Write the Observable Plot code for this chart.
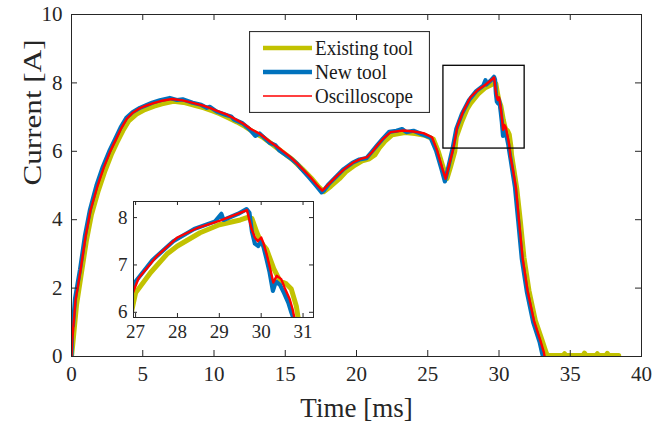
<!DOCTYPE html>
<html>
<head>
<meta charset="utf-8">
<script src="https://cdn.jsdelivr.net/npm/d3@7"></script>
<script src="https://cdn.jsdelivr.net/npm/@observablehq/plot@0.6"></script>
<style>
  html, body { margin: 0; padding: 0; background: white; }
  #wrap { position: relative; width: 670px; height: 423px; }
  #wrap > * { position: absolute; }
</style>
</head>
<body>
<div id="wrap"></div>
<script>
// ---- data (time [ms], current [A]) ----
const existingTool = [[0,0],[0.1,0.4],[0.35,1.5],[0.7,2.45],[1.05,3.4],[1.4,4.15],[1.88,4.85],[2.35,5.43],[2.82,5.93],[3.18,6.25],[3.6,6.6],[4.0,6.88],[4.6,7.1],[5.15,7.22],[5.8,7.32],[6.35,7.39],[7.15,7.46],[8.0,7.42],[8.7,7.34],[9.3,7.27],[9.9,7.18],[10.4,7.1],[11.0,6.98],[11.6,6.86],[12.2,6.72],[12.7,6.58],[13.4,6.42],[14.1,6.2],[14.8,5.98],[15.5,5.76],[16.2,5.48],[16.9,5.18],[17.3,4.98],[17.7,4.82],[18.2,4.98],[18.8,5.2],[19.3,5.42],[19.9,5.6],[20.4,5.72],[20.9,5.78],[21.3,5.9],[21.6,6.1],[22.0,6.3],[22.5,6.48],[23.4,6.55],[24.1,6.52],[24.8,6.47],[25.4,6.35],[25.75,5.98],[26.1,5.5],[26.35,5.2],[26.6,5.55],[26.9,6.0],[27.0,6.41],[27.36,6.84],[27.75,7.23],[28.0,7.4],[28.54,7.68],[29.0,7.85],[29.5,7.95],[29.66,8.0],[29.78,7.98],[29.9,7.68],[30.0,7.47],[30.13,7.33],[30.3,6.92],[30.45,6.66],[30.6,6.6],[30.72,6.49],[30.84,6.13],[30.88,5.9],[31.05,5.45],[31.25,4.9],[31.5,3.95],[31.75,2.9],[32.1,1.93],[32.55,1.05],[33.0,0.5],[33.3,0.12],[33.4,0.03],[34.5,0.03],[34.6,0.08],[34.7,0.03],[35.9,0.03],[36.0,0.1],[36.1,0.03],[36.8,0.03],[36.9,0.08],[37.0,0.03],[37.5,0.03],[37.6,0.09],[37.7,0.03],[38.4,0.03]];
const newTool = [[0,0],[0.03,0.6],[0.06,1.05],[0.1,0.9],[0.25,1.7],[0.6,2.55],[0.95,3.55],[1.3,4.3],[1.75,5.0],[2.2,5.55],[2.7,6.05],[3.05,6.35],[3.45,6.7],[3.85,6.98],[4.3,7.15],[4.8,7.27],[5.2,7.34],[5.65,7.42],[6.2,7.49],[6.9,7.56],[7.4,7.5],[7.8,7.52],[8.5,7.42],[9.1,7.36],[9.5,7.27],[9.7,7.3],[10.2,7.16],[10.85,7.06],[11.2,7.02],[11.4,6.93],[12.0,6.82],[12.5,6.64],[12.9,6.45],[13.2,6.52],[13.9,6.25],[14.3,6.18],[14.6,6.02],[15.3,5.82],[15.8,5.65],[16.1,5.5],[16.7,5.22],[17.15,5.0],[17.55,4.8],[17.7,4.85],[18.05,5.04],[18.6,5.27],[19.1,5.48],[19.7,5.66],[20.2,5.76],[20.7,5.8],[21.0,5.95],[21.4,6.15],[21.85,6.37],[22.3,6.57],[22.8,6.6],[23.2,6.65],[23.5,6.56],[24.0,6.6],[24.6,6.5],[25.2,6.4],[25.6,6.0],[25.95,5.5],[26.2,5.12],[26.45,5.55],[26.75,6.1],[27.0,6.65],[27.4,7.1],[27.9,7.5],[28.4,7.76],[28.9,7.92],[29.05,8.08],[29.1,7.95],[29.45,8.08],[29.65,8.18],[29.72,8.1],[29.78,7.7],[29.85,7.45],[29.93,7.4],[30.0,7.5],[30.05,7.4],[30.12,7.15],[30.2,6.85],[30.28,6.45],[30.35,6.65],[30.45,6.58],[30.55,6.4],[30.65,6.2],[30.72,6.0],[30.8,5.8],[30.95,5.4],[31.12,4.95],[31.35,3.95],[31.6,2.85],[31.95,1.9],[32.4,1.0],[32.85,0.42],[33.05,0.05],[33.1,0]];
const oscilloscope = [[0,0],[0.05,0.47],[0.28,1.64],[0.63,2.51],[0.98,3.49],[1.33,4.27],[1.8,4.95],[2.27,5.53],[2.74,6.02],[3.09,6.32],[3.5,6.68],[3.9,6.96],[4.3,7.13],[4.7,7.24],[5.07,7.31],[5.7,7.4],[6.25,7.47],[7.06,7.53],[7.8,7.49],[8.58,7.41],[9.2,7.34],[9.75,7.26],[10.3,7.17],[10.93,7.07],[11.5,6.94],[12.1,6.8],[12.56,6.66],[13.26,6.5],[13.96,6.27],[14.7,6.05],[15.37,5.83],[16.1,5.53],[16.77,5.24],[17.2,5.03],[17.6,4.85],[18.1,5.06],[18.64,5.29],[19.2,5.5],[19.8,5.68],[20.3,5.78],[20.75,5.83],[21.1,5.98],[21.45,6.17],[21.9,6.38],[22.4,6.56],[23.3,6.61],[24.0,6.58],[24.7,6.53],[25.3,6.41],[25.66,6.02],[26.0,5.53],[26.25,5.2],[26.5,5.6],[26.8,6.1],[27.07,6.72],[27.5,7.18],[28.0,7.58],[28.5,7.79],[29.0,7.93],[29.5,8.1],[29.66,8.16],[29.77,7.76],[29.85,7.58],[29.92,7.5],[30.0,7.58],[30.05,7.47],[30.13,7.23],[30.21,6.94],[30.29,6.63],[30.37,6.77],[30.48,6.7],[30.56,6.52],[30.68,6.28],[30.75,6.07],[30.8,5.85],[31.0,5.4],[31.18,4.95],[31.4,3.98],[31.65,2.9],[32.0,1.93],[32.45,1.05],[32.9,0.47],[33.15,0.12],[33.2,0]];

const xTicks = [0, 5, 10, 15, 20, 25, 30, 35, 40];
const yTicks = [0, 2, 4, 6, 8, 10];
const insetXTicks = [27, 28, 29, 30, 31];
const insetYTicks = [6, 7, 8];
const zoomBox = [{x1: 26.1, x2: 31.8, y1: 6.08, y2: 8.5}];
const legendLabels = ["Existing tool", "New tool", "Oscilloscope"];
const seriesColors = ["#c2c200", "#0072bd", "#ff0000"];
const seriesWidths = [5, 4.2, 2.4];
const legendWidths = [4.5, 4.5, 1.3];

const axisColor = "#262626";
const font = "'Liberation Serif', 'Times New Roman', serif";
const series = [existingTool, newTool, oscilloscope];

function lineMarks() {
  return series.map((s, i) => Plot.line(s, {
    x: d => d[0], y: d => d[1], stroke: seriesColors[i],
    strokeWidth: seriesWidths[i], strokeLinejoin: "round", clip: true
  }));
}

function inwardTicks(xt, yt, W, H, len) {
  return [
    Plot.tickX(xt, {x: d => d, insetTop: H - len, stroke: axisColor}),
    Plot.tickX(xt, {x: d => d, insetBottom: H - len, stroke: axisColor}),
    Plot.tickY(yt, {y: d => d, insetRight: W - len, stroke: axisColor}),
    Plot.tickY(yt, {y: d => d, insetLeft: W - len, stroke: axisColor})
  ];
}

// ---- main chart ----
const M = {l: 71, r: 29, t: 14, b: 67};
const W = 670, H = 423;
const main = Plot.plot({
  width: W, height: H,
  marginLeft: M.l, marginRight: M.r, marginTop: M.t, marginBottom: M.b,
  x: {domain: [0, 40]},
  y: {domain: [0, 10]},
  style: {fontFamily: font, fontSize: "21px", color: axisColor, background: "white", overflow: "visible"},
  marks: [
    ...lineMarks(),
    Plot.rect(zoomBox, {x1: "x1", x2: "x2", y1: "y1", y2: "y2", fill: "none", stroke: "black", strokeWidth: 1.3}),
    ...inwardTicks(xTicks, yTicks, W - M.l - M.r, H - M.t - M.b, 6),
    Plot.frame({stroke: axisColor, strokeWidth: 1}),
    Plot.axisX({ticks: xTicks, tickFormat: d => String(d), tickSize: 0, tickPadding: 10, label: null, fontSize: 21}),
    Plot.axisY({ticks: yTicks, tickFormat: d => String(d), tickSize: 0, tickPadding: 9, label: null, fontSize: 21}),
    Plot.text(["Time [ms]"], {frameAnchor: "bottom", dy: 52, fontSize: 27, fill: axisColor, lineAnchor: "middle"}),
    Plot.text(["Current [A]"], {frameAnchor: "left", dx: -39, rotate: -90, fontSize: 26, fill: axisColor, lineAnchor: "middle"})
  ]
});
main.style.left = "0px"; main.style.top = "0px";
document.getElementById("wrap").appendChild(main);
// vertical stretch of the original rendering: lengthen the rotated label
d3.select(main).selectAll("text").filter(function() { return this.textContent === "Current [A]"; })
  .attr("textLength", 146).attr("lengthAdjust", "spacingAndGlyphs");

// ---- inset ----
const IM = {l: 33, r: 17, t: 11, b: 33};
const IW = 230, IH = 160;
const inset = Plot.plot({
  width: IW, height: IH,
  marginLeft: IM.l, marginRight: IM.r, marginTop: IM.t, marginBottom: IM.b,
  x: {domain: [26.95, 31.25]},
  y: {domain: [5.89, 8.34]},
  style: {fontFamily: font, fontSize: "19px", color: axisColor, background: "transparent", overflow: "visible"},
  marks: [
    Plot.frame({fill: "white"}),
    ...lineMarks(),
    ...inwardTicks(insetXTicks, insetYTicks, IW - IM.l - IM.r, IH - IM.t - IM.b, 4),
    Plot.frame({stroke: axisColor, strokeWidth: 1}),
    Plot.axisX({ticks: insetXTicks, tickFormat: d => String(d), tickSize: 0, tickPadding: 7, label: null, fontSize: 19}),
    Plot.axisY({ticks: insetYTicks, tickFormat: d => String(d), tickSize: 0, tickPadding: 6, label: null, fontSize: 19})
  ]
});
inset.style.left = "100px"; inset.style.top = "190px";
document.getElementById("wrap").appendChild(inset);

// ---- legend ----
const LX = 249, LY = 31, LW = 181, LH = 82;
const legend = d3.create("svg").attr("width", LW).attr("height", LH)
  .style("left", LX + "px").style("top", LY + "px");
legend.append("rect").attr("x", 0.5).attr("y", 0.5).attr("width", LW - 1).attr("height", LH - 1)
  .attr("fill", "white").attr("stroke", "#333").attr("stroke-width", 1.2);
const legendTextLen = [98, 72, 98];
legendLabels.forEach((lab, i) => {
  const y = 17 + i * 24;
  legend.append("line").attr("x1", 14).attr("x2", 63).attr("y1", y).attr("y2", y)
    .attr("stroke", seriesColors[i]).attr("stroke-width", legendWidths[i]);
  legend.append("text").attr("x", 66).attr("y", y + 7).text(lab)
    .attr("font-family", font).attr("font-size", 22).attr("fill", "#1a1a1a")
    .attr("textLength", legendTextLen[i]).attr("lengthAdjust", "spacingAndGlyphs");
});
document.getElementById("wrap").appendChild(legend.node());
</script>
</body>
</html>
